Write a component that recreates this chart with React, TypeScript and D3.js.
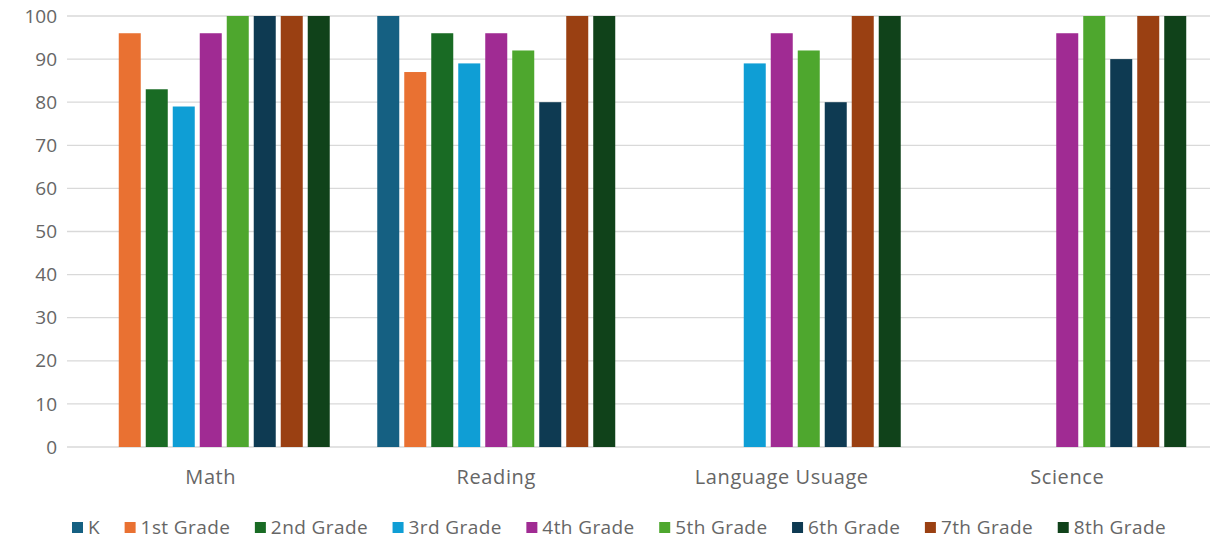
import React, { useEffect, useRef } from "react";
import * as d3 from "d3";

const categories = ["Math", "Reading", "Language Usuage", "Science"];
const grades = ["K", "1st Grade", "2nd Grade", "3rd Grade", "4th Grade", "5th Grade", "6th Grade", "7th Grade", "8th Grade"];
const mathValues = [null, 96, 83, 79, 96, 100, 100, 100, 100];
const readingValues = [100, 87, 96, 89, 96, 92, 80, 100, 100];
const languageValues = [null, null, null, 89, 96, 92, 80, 100, 100];
const scienceValues = [null, null, null, null, 96, 100, 90, 100, 100];
const seriesByCategory = [mathValues, readingValues, languageValues, scienceValues];
const yTicks = [0, 10, 20, 30, 40, 50, 60, 70, 80, 90, 100];
const colors = ["#156082", "#E97132", "#196B24", "#0F9ED5", "#A02B93", "#4EA72E", "#0E3A52", "#9A4012", "#10421A"];

const W = 1211, H = 547;
const FONT = "'Open Sans', Inter, sans-serif";

export default function App() {
  const legendRef = useRef<SVGGElement>(null);
  const x0 = d3.scaleBand().domain(categories).range([68, 1210]).padding(0);
  const x1 = d3.scaleBand().domain(grades).range([0, x0.bandwidth()]).paddingInner(0.185).paddingOuter(0.88);
  const y = d3.scaleLinear().domain([0, 100]).range([447, 16]);

  useEffect(() => {
    const g = legendRef.current;
    if (!g) return;
    const items = Array.from(g.querySelectorAll("g.item")) as SVGGElement[];
    const sq = 11, gap1 = 5;
    const left = 72, right = 1166;
    const widths = items.map((it) => (it.querySelector("text") as SVGTextElement).getComputedTextLength());
    const content = widths.reduce((a, w) => a + sq + gap1 + w, 0);
    const gap2 = (right - left - content) / (items.length - 1);
    let x = left;
    items.forEach((it, i) => {
      it.setAttribute("transform", `translate(${x},0)`);
      x += sq + gap1 + widths[i] + gap2;
    });
  }, []);

  return (
    <svg width={W} height={H} style={{ display: "block", position: "absolute", left: 0, top: 0, background: "#fff" }}>
      {yTicks.map((t) => (
        <g key={t}>
          <line x1={67} x2={1210} y1={y(t)} y2={y(t)} stroke="#d9d9d9" strokeWidth={1.3} />
          <text x={57} y={y(t)} dy="0.35em" textAnchor="end" fontFamily={FONT} fontSize={19} fill="#666">{t}</text>
        </g>
      ))}
      {categories.map((c, ci) => (
        <g key={c} transform={`translate(${x0(c)},0)`}>
          {grades.map((gname, gi) => {
            const v = seriesByCategory[ci][gi];
            if (v == null) return null;
            return <rect key={gname} x={x1(gname)} y={y(v)} width={x1.bandwidth()} height={y(0) - y(v)} fill={colors[gi]} />;
          })}
          <text x={x0.bandwidth() / 2} y={484} textAnchor="middle" fontFamily={FONT} fontSize={20} letterSpacing={0.6} fill="#666">{c}</text>
        </g>
      ))}
      <g ref={legendRef}>
        {grades.map((gname, gi) => (
          <g key={gname} className="item">
            <rect x={0} y={522} width={11} height={11} fill={colors[gi]} />
            <text x={16} y={534} fontFamily={FONT} fontSize={19} letterSpacing={0.4} fill="#666">{gname}</text>
          </g>
        ))}
      </g>
    </svg>
  );
}
